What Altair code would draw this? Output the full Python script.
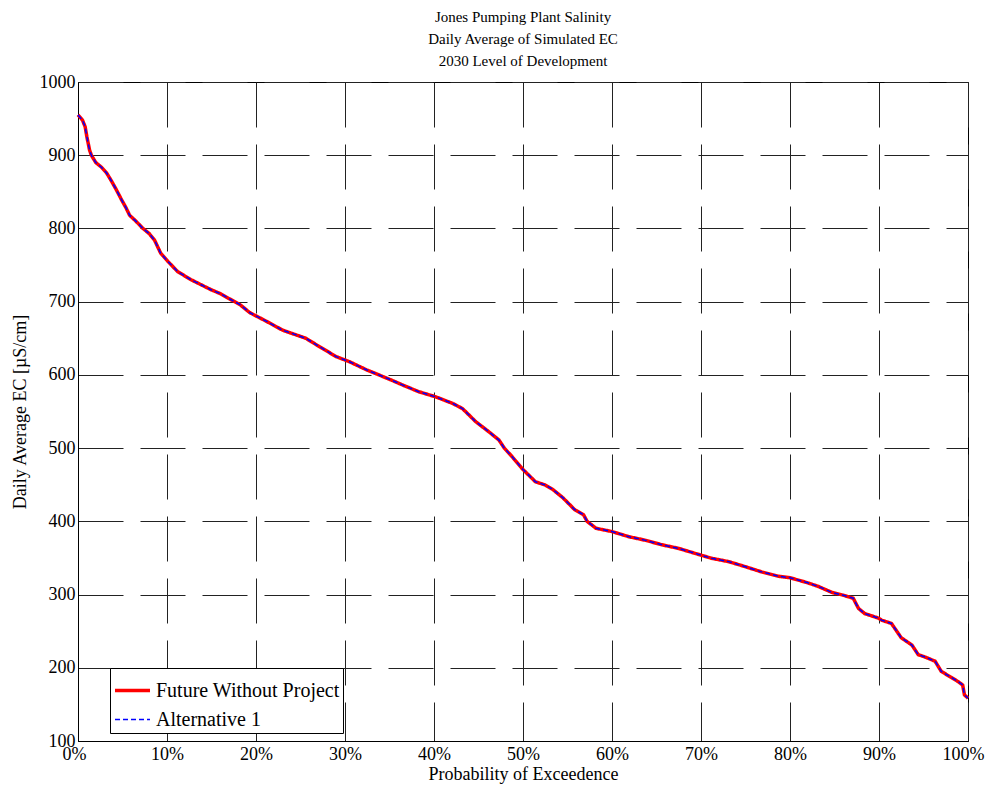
import altair as alt
import pandas as pd

# Probability of exceedence (%) and daily average EC (uS/cm)
prob_pct = [0, 0.5, 0.8, 1.0, 1.3, 1.5, 2.0, 2.6, 3.2, 3.7, 4.3, 4.9, 5.4, 5.8, 6.5,
            7.3, 8.0, 8.6, 9.3, 10.1, 11.2, 12.7, 15.0, 16.0, 17.0, 18.2, 19.3, 21.2,
            23.0, 25.6, 26.8, 29.0, 30.5, 32.4, 35.0, 36.7, 38.3, 40.2, 42.1, 43.2,
            44.7, 46.2, 47.3, 47.9, 48.8, 49.9, 51.4, 52.5, 53.3, 54.5, 55.8, 56.8,
            57.2, 58.2, 60.0, 61.9, 63.8, 65.6, 67.5, 69.4, 71.2, 73.1, 75.0, 76.8,
            78.7, 80.0, 82.0, 83.2, 84.7, 86.0, 87.1, 87.7, 88.4, 89.9, 90.3, 91.4,
            92.5, 93.7, 94.4, 95.1, 96.3, 97.0, 98.1, 98.9, 99.4, 99.6, 100.0]
ec_future = [955, 948, 939, 925, 907, 900, 890, 884, 876, 866, 853, 839, 828, 818, 810,
             800, 793, 784, 766, 755, 741, 730, 716, 711, 704, 696, 685, 673,
             661, 650, 641, 625, 618, 607, 594, 585, 577, 570, 561, 554,
             536, 522, 511, 500, 488, 472, 454, 449.6, 444, 432, 416, 409,
             400, 390.5, 386, 379, 374, 368, 363, 356, 349.5, 345, 338, 331,
             325, 323, 316, 311, 303, 299, 295, 281, 274, 268, 265, 260.5,
             241, 231, 218, 215, 209, 195, 187, 181, 176.5, 163, 158.5]
ec_alt1 = [955, 948, 939, 925, 907, 900, 890, 884, 876, 866, 853, 839, 828, 818, 810,
           800, 793, 784, 766, 755, 741, 730, 716, 711, 704, 696, 685, 673,
           661, 650, 641, 625, 618, 607, 594, 585, 577, 570, 561, 554,
           536, 522, 511, 500, 488, 472, 454, 449.6, 444, 432, 416, 409,
           400, 390.5, 386, 379, 374, 368, 363, 356, 349.5, 345, 338, 331,
           325, 323, 316, 311, 303, 299, 295, 281, 274, 268, 265, 260.5,
           241, 231, 218, 215, 209, 195, 187, 181, 176.5, 163, 158.5]

series_names = ["Future Without Project", "Alternative 1"]
x_ticks = [0, 0.1, 0.2, 0.3, 0.4, 0.5, 0.6, 0.7, 0.8, 0.9, 1.0]
y_ticks = [100, 200, 300, 400, 500, 600, 700, 800, 900, 1000]

df = pd.concat([
    pd.DataFrame({"p": [v / 100 for v in prob_pct], "ec": ec_future, "series": series_names[0]}),
    pd.DataFrame({"p": [v / 100 for v in prob_pct], "ec": ec_alt1, "series": series_names[1]}),
])

FONT = "Liberation Serif"

x_enc = alt.X("p:Q", scale=alt.Scale(domain=[0, 1], nice=False),
              axis=alt.Axis(values=x_ticks, format=".0%", title="Probability of Exceedence",
                            grid=True, labelFlush=True, labelFlushOffset=16,
                            labelOverlap=False))
y_enc = alt.Y("ec:Q", scale=alt.Scale(domain=[100, 1000], nice=False),
              axis=alt.Axis(values=y_ticks, format="d", title="Daily Average EC [µS/cm]",
                            grid=True, labelFlush=False, labelOverlap=False))
legend_common = dict(title=None, orient="none", legendX=32, legendY=586)
color_enc = alt.Color("series:N",
                      scale=alt.Scale(domain=series_names, range=["#ff0000", "#0000ff"]),
                      legend=alt.Legend(**legend_common,
                                        symbolType="stroke", symbolSize=1225,
                                        labelFont=FONT, labelFontSize=20, labelColor="black",
                                        strokeColor="black", fillColor="white",
                                        padding=3, rowPadding=-17, labelOffset=4,
                                        labelLimit=400))
dash_enc = alt.StrokeDash("series:N",
                          scale=alt.Scale(domain=series_names, range=[[1, 0], [5, 3]]),
                          legend=alt.Legend(**legend_common))
width_enc = alt.StrokeWidth("series:N",
                            scale=alt.Scale(domain=series_names, range=[3.5, 1.5]),
                            legend=alt.Legend(**legend_common))

base = alt.Chart(df).mark_line(interpolate="linear").encode(
    x=x_enc, y=y_enc, color=color_enc, strokeDash=dash_enc, strokeWidth=width_enc
)

red = base.transform_filter(alt.datum.series == series_names[0])
blue = base.transform_filter(alt.datum.series == series_names[1])

chart = alt.layer(red, blue).properties(
    width=890, height=659,
    background="white",
    autosize=alt.AutoSizeParams(type="none"),
    padding={"left": 70, "top": 74, "right": 17, "bottom": 45},
    title=alt.TitleParams(
        text=["Jones Pumping Plant Salinity", "Daily Average of Simulated EC",
              "2030 Level of Development"],
        font=FONT, fontSize=15, fontWeight="normal", color="black",
        lineHeight=22, anchor="middle", offset=4),
).configure_view(
    stroke="black", strokeWidth=1
).configure_axis(
    labelFont=FONT, labelFontSize=18, labelColor="black",
    titleFont=FONT, titleFontSize=18, titleFontWeight="normal", titleColor="black",
    domainColor="black", domainWidth=1, ticks=False,
    gridColor="#222222", gridWidth=1, gridDash=[45, 17], gridOpacity=1,
).configure_axisX(
    labelPadding=4, titlePadding=2
).configure_axisY(
    labelPadding=3, titlePadding=10
)

chart.save("out.html", embed_options={"renderer": "svg", "actions": False})
